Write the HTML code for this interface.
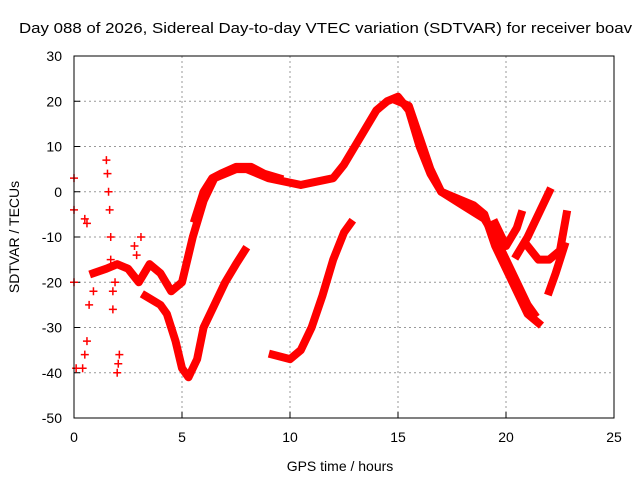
<!DOCTYPE html>
<html><head><meta charset="utf-8"><style>
body{margin:0;background:#fff}
svg text{font-family:"Liberation Sans",sans-serif;font-size:14px;fill:#000}
</style></head><body>
<svg width="640" height="480">
<rect width="640" height="480" fill="#fff"/>
<text x="19" y="33" textLength="613" lengthAdjust="spacingAndGlyphs" style="font-size:15px">Day 088 of 2026, Sidereal Day-to-day VTEC variation (SDTVAR) for receiver boav</text>
<g id="grid"></g>
<g id="ticks"></g>
<g id="series"></g>
<rect x="74" y="56" width="540" height="362" fill="none" stroke="#000" stroke-width="1"/>
<text x="340" y="471" text-anchor="middle">GPS time / hours</text>
<text transform="translate(19,237) rotate(-90)" text-anchor="middle">SDTVAR / TECUs</text>
</svg>
<script>
const xTicks=[0,5,10,15,20,25];
const yTicks=[30,20,10,0,-10,-20,-30,-40,-50];
const trackMain=[[0.9,-18],[1.5,-17],[2,-16],[2.5,-17],[3,-20],[3.5,-16],[4,-18],[4.5,-22],[5,-20],[5.5,-10],[6,-2],[6.5,3],[7,4],[7.5,5],[8,5],[8.5,4],[9,3],[10,2],[10.5,1.5],[11,2],[12,3],[12.5,6],[13,10],[14,18],[14.5,20],[15,21],[15.5,18],[16,10],[16.5,4],[17,0],[18,-3],[19,-6],[19.5,-10],[20,-15],[20.5,-20],[21,-25],[21.3,-27]];
const trackUpper=[[5.6,-6],[6,0],[6.4,3],[6.8,4],[7.5,5.5],[8.2,5.5],[8.8,4],[9.5,3]];
const trackDip=[[3.3,-23],[4,-25],[4.3,-27],[4.7,-33],[5,-39],[5.3,-41],[5.7,-37],[6,-30],[6.5,-25],[7,-20],[7.5,-16],[7.9,-13]];
const trackLow=[[9.2,-36],[10,-37],[10.5,-35],[11,-30],[11.5,-23],[12,-15],[12.5,-9],[12.8,-7]];
const trackDesc=[[15,20],[15.5,19],[16,12],[16.5,5],[17,0],[17.5,-1],[18,-2],[18.5,-3],[19,-5],[19.5,-12],[20,-17],[20.5,-22],[21,-27],[21.5,-29]];
const trackF=[[19.5,-7],[20,-12],[20.5,-8],[20.7,-5]];
const trackG=[[20.5,-14],[21,-10],[21.5,-5],[22,0]];
const trackH=[[21,-12],[21.5,-15],[22,-15],[22.5,-13],[22.8,-5]];
const trackI=[[22,-22],[22.3,-18],[22.7,-12]];
const scatter=[[0,3],[0,-4],[0,-20],[0.1,-39],[0.4,-39],[0.5,-36],[0.6,-33],[0.5,-6],[0.6,-7],[0.7,-25],[0.9,-22],[1.5,7],[1.55,4],[1.6,0],[1.65,-4],[1.7,-10],[1.7,-15],[1.8,-22],[1.8,-26],[1.9,-20],[2,-40],[2.05,-38],[2.1,-36],[2.8,-12],[2.9,-14],[3.1,-10]];
const X=t=>74+t*21.6, Y=v=>191.75-v*4.525;
const ns="http://www.w3.org/2000/svg";
const grid=document.getElementById('grid'),ticks=document.getElementById('ticks'),ser=document.getElementById('series');
function el(tag,attrs,parent){const e=document.createElementNS(ns,tag);for(const k in attrs)e.setAttribute(k,attrs[k]);parent.appendChild(e);return e;}
xTicks.forEach(t=>{
 if(t>0&&t<25){const g=el('line',{x1:X(t),x2:X(t),y1:56,y2:418,stroke:'#999','stroke-dasharray':'2,3'},grid);
 
 }
 el('line',{x1:X(t),x2:X(t),y1:418,y2:412,stroke:'#000'},ticks);
 const tx=el('text',{x:X(t),y:442,'text-anchor':'middle'},ticks);tx.textContent=t;
 
 
});
yTicks.forEach(v=>{
 if(v<30&&v>-50){const g=el('line',{x1:74,x2:614,y1:Y(v),y2:Y(v),stroke:'#999','stroke-dasharray':'2,3'},grid);
 
 }
 el('line',{x1:74,x2:80,y1:Y(v),y2:Y(v),stroke:'#000'},ticks);
 const tx=el('text',{x:62,y:Y(v)+5,'text-anchor':'end'},ticks);tx.textContent=v;
 
 
});
[trackMain,trackUpper,trackDip,trackLow,trackDesc,trackF,trackG,trackH,trackI].forEach(tr=>{
 const p=el('polyline',{points:tr.map(d=>X(d[0])+','+Y(d[1])).join(' '),fill:'none',stroke:'#f00','stroke-width':8,'stroke-linejoin':'round','stroke-linecap':'square'},ser);
 
 
});
scatter.forEach(d=>{
 const p=el('path',{d:`M${X(d[0])-4},${Y(d[1])}h8M${X(d[0])},${Y(d[1])-4}v8`,stroke:'#f00','stroke-width':1.5},ser);
 
 
});
</script>
</body></html>
